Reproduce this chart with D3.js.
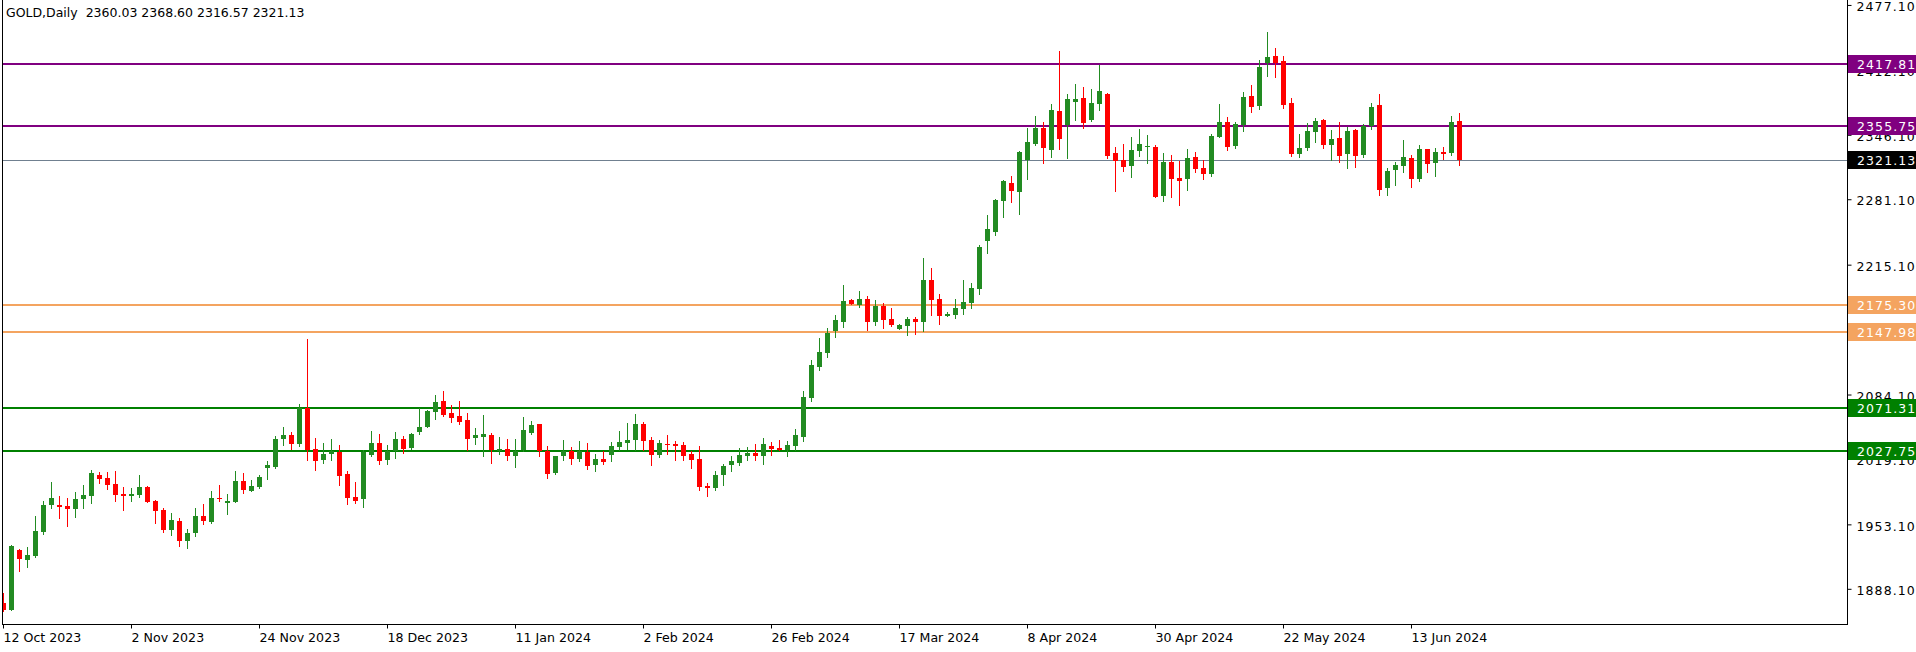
<!DOCTYPE html>
<html><head><meta charset="utf-8">
<script src="https://cdn.jsdelivr.net/npm/d3@7"></script>
<style>html,body{margin:0;padding:0;background:#fff;} svg{display:block;}</style>
</head><body><svg id="c" width="1916" height="652"></svg>
<script>
// ---- DATA ----
const openP = [1874.6,1867.2,1927.8,1917.7,1922.0,1945.6,1973.5,1973.2,1972.2,1969.4,
1979.5,1982.6,2003.4,2000.4,1994.3,1984.3,1982.6,1983.6,1991.3,1977.2,
1968.1,1948.3,1957.0,1937.2,1945.2,1962.1,1956.0,1980.2,1975.5,1976.5,
1997.4,1987.6,1991.3,2010.5,2011.5,2039.7,2043.8,2034.7,2071.0,2029.7,
2018.6,2024.6,2026.6,2004.4,1981.2,1979.2,2023.6,2035.7,2018.6,2027.6,
2039.7,2030.7,2046.8,2051.8,2067.0,2078.1,2066.0,2062.9,2058.9,2040.7,
2041.8,2043.8,2027.6,2029.7,2022.9,2028.6,2045.8,2054.9,2027.6,2005.4,
2022.6,2027.6,2019.6,2026.6,2013.5,2019.6,2023.6,2031.7,2035.7,2038.7,
2054.9,2038.7,2023.6,2034.7,2034.7,2033.7,2024.6,2019.6,1992.3,1990.3,
2003.4,2013.5,2015.5,2022.6,2025.6,2022.6,2032.7,2030.7,2028.6,2032.7,
2041.8,2081.1,2112.4,2126.5,2148.7,2157.8,2180.0,2174.9,2181.0,2157.8,
2173.9,2160.8,2150.7,2153.7,2160.8,2157.8,2200.1,2181.0,2163.8,2164.8,
2170.9,2176.9,2191.1,2239.5,2248.6,2279.8,2298.0,2288.9,2321.2,2337.4,
2353.5,2331.3,2370.6,2356.5,2379.7,2383.7,2361.5,2377.7,2387.8,2328.3,
2321.2,2315.1,2330.3,2334.3,2334.3,2284.9,2319.2,2303.0,2302.0,2324.2,
2313.1,2307.1,2344.4,2359.5,2335.3,2356.5,2385.7,2375.7,2419.0,2426.1,
2421.1,2378.7,2327.3,2333.3,2349.5,2361.5,2336.3,2343.4,2327.3,2351.5,
2326.2,2355.5,2376.7,2292.9,2311.1,2315.1,2323.2,2302.0,2332.3,2318.2,
2329.3,2328.3,2360.03];
const highP = [1884.7,1932.5,1928.8,1930.8,1962.1,1977.2,1996.4,1982.2,1980.2,1986.3,
1993.3,2008.5,2006.4,2006.4,2007.5,1991.3,1990.3,2003.4,1992.3,1978.2,
1970.1,1965.1,1960.0,1949.0,1970.1,1974.2,1987.3,1993.3,1984.3,2007.5,
2005.4,1998.4,2003.4,2017.6,2042.8,2051.8,2046.8,2075.0,2140.6,2040.7,
2035.7,2039.7,2033.7,2007.5,1996.4,2028.6,2047.8,2044.8,2033.7,2046.8,
2042.8,2045.8,2071.0,2069.0,2084.1,2088.2,2074.0,2078.1,2066.0,2050.8,
2063.9,2045.8,2041.8,2039.7,2039.7,2061.9,2057.9,2054.9,2032.7,2022.6,
2038.7,2031.7,2037.7,2035.7,2024.6,2027.6,2036.7,2047.8,2055.9,2065.0,
2056.9,2041.8,2038.7,2043.8,2037.7,2036.7,2027.6,2032.7,1995.4,2007.5,
2014.5,2022.6,2030.7,2031.7,2034.7,2040.7,2036.7,2038.7,2037.7,2049.8,
2088.2,2119.4,2141.6,2151.7,2164.8,2195.1,2181.0,2189.0,2184.0,2180.0,
2176.9,2171.9,2155.7,2162.8,2162.8,2222.3,2212.2,2186.0,2167.9,2181.0,
2200.1,2197.1,2235.4,2265.7,2281.5,2301.0,2305.0,2330.3,2353.5,2365.6,
2359.5,2377.7,2431.2,2387.8,2397.9,2394.8,2392.8,2417.0,2388.8,2334.3,
2337.4,2344.4,2352.5,2346.4,2336.3,2328.3,2326.2,2320.2,2332.3,2329.3,
2321.2,2347.4,2377.7,2364.6,2359.5,2389.8,2396.9,2422.1,2450.3,2434.2,
2426.1,2383.7,2347.4,2358.5,2363.6,2362.6,2351.5,2359.5,2354.5,2352.5,
2357.5,2378.7,2387.8,2313.1,2319.2,2341.4,2326.2,2336.3,2332.3,2333.3,
2334.3,2365.6,2368.60];
const lowP = [1866.5,1867.0,1906.9,1910.9,1921.0,1943.9,1970.4,1960.4,1952.3,1961.4,
1970.4,1975.5,1995.7,1989.6,1977.5,1968.4,1977.5,1981.6,1976.5,1955.3,
1946.2,1943.2,1932.1,1930.1,1942.2,1954.3,1955.0,1977.5,1964.4,1976.5,
1985.6,1987.6,1990.6,1999.4,2010.5,2033.7,2029.7,2032.7,2018.6,2008.5,
2015.5,2018.6,1993.3,1974.2,1975.2,1971.1,2022.6,2014.5,2014.5,2020.6,
2025.6,2029.7,2044.8,2051.8,2059.9,2062.9,2056.9,2054.9,2028.6,2034.7,
2022.6,2015.5,2024.6,2018.6,2011.5,2027.6,2044.8,2022.6,2000.4,2004.4,
2018.6,2014.5,2017.6,2009.5,2007.5,2014.5,2017.6,2028.6,2029.7,2028.6,
2028.6,2013.5,2021.6,2024.6,2018.6,2018.6,2010.5,1988.3,1982.2,1988.3,
1993.3,2007.5,2013.5,2018.6,2018.6,2014.5,2023.6,2028.6,2022.6,2028.6,
2037.7,2078.1,2109.3,2122.5,2142.6,2152.7,2175.9,2172.9,2149.7,2154.7,
2151.7,2153.7,2150.7,2144.7,2145.7,2148.7,2164.8,2155.7,2163.8,2161.8,
2165.8,2171.9,2186.0,2227.4,2245.5,2263.7,2278.8,2266.7,2302.0,2336.3,
2318.2,2324.2,2332.3,2323.2,2361.5,2353.5,2360.5,2371.6,2323.2,2289.9,
2310.1,2304.0,2325.2,2318.2,2283.9,2279.8,2283.9,2275.8,2290.9,2309.1,
2302.0,2305.0,2344.4,2331.3,2333.3,2350.5,2369.6,2372.6,2405.9,2404.9,
2373.6,2325.2,2324.2,2331.3,2339.4,2333.3,2321.2,2319.2,2313.1,2314.1,
2324.2,2352.5,2285.9,2285.9,2296.0,2309.1,2293.9,2300.0,2309.1,2305.0,
2322.2,2326.2,2316.57];
const closeP = [1867.2,1931.8,1918.7,1922.7,1946.9,1973.2,1980.2,1971.1,1969.4,1979.2,
1983.3,2005.4,1999.7,1993.6,1983.6,1982.6,1984.3,1991.3,1976.5,1967.4,
1948.3,1958.0,1937.2,1944.9,1962.1,1957.3,1980.2,1979.2,1977.2,1997.4,
1988.6,1992.3,2001.4,2013.5,2039.7,2043.8,2034.7,2071.0,2028.6,2017.6,
2024.6,2027.6,2002.4,1980.2,1977.2,2026.6,2035.7,2017.6,2027.6,2039.7,
2029.7,2044.8,2051.8,2068.0,2077.1,2063.9,2060.9,2056.9,2039.7,2043.8,
2044.8,2028.6,2029.7,2022.9,2027.6,2048.8,2053.9,2027.6,2004.4,2022.6,
2027.6,2019.6,2027.6,2012.5,2019.6,2016.5,2032.7,2036.7,2038.7,2054.9,
2037.7,2023.6,2035.7,2033.7,2032.7,2022.6,2018.6,1991.3,1990.3,2003.4,
2012.5,2017.6,2023.6,2025.6,2022.6,2034.7,2029.7,2028.6,2033.7,2043.8,
2082.1,2114.4,2127.5,2146.7,2159.8,2179.0,2175.9,2181.0,2157.8,2173.9,
2159.8,2154.7,2154.7,2160.8,2157.8,2200.1,2180.0,2163.8,2165.8,2171.9,
2177.9,2192.1,2233.4,2251.6,2280.8,2300.0,2289.9,2329.3,2339.4,2353.5,
2333.3,2371.6,2342.4,2382.7,2382.7,2358.5,2378.7,2390.8,2325.2,2320.2,
2314.1,2331.3,2337.4,2335.3,2283.9,2319.2,2302.0,2300.0,2323.2,2312.1,
2307.1,2345.4,2359.5,2334.3,2357.5,2384.7,2374.7,2415.0,2425.1,2419.0,
2376.7,2327.3,2333.3,2350.5,2360.5,2336.3,2342.4,2325.2,2350.5,2325.2,
2355.5,2374.7,2290.9,2310.1,2316.1,2324.2,2302.0,2332.3,2317.2,2329.3,
2327.3,2359.5,2321.13];

const dateTickLabels = ["12 Oct 2023","2 Nov 2023","24 Nov 2023","18 Dec 2023","11 Jan 2024","2 Feb 2024",
  "26 Feb 2024","17 Mar 2024","8 Apr 2024","30 Apr 2024","22 May 2024","13 Jun 2024"];
const dateTickBars = [0,16,32,48,64,80,96,112,128,144,160,176];
const priceTicks = [2477.10,2412.10,2346.10,2281.10,2215.10,2150.10,2084.10,2019.10,1953.10,1888.10];
const levelValues = [2417.81,2355.75,2175.30,2147.98,2071.31,2027.75];
const levelColors = ["#800080","#800080","#F4A460","#F4A460","#008000","#008000"];
const lastPrice = 2321.13;
const titleText = "GOLD,Daily  2360.03 2368.60 2316.57 2321.13";

// ---- CHART ----
const W = 1916, H = 652;
const plotL = 2, plotR = 1847, plotB = 624;
const FONT = "DejaVu Sans";
const svg = d3.select("#c");
svg.append("rect").attr("width", W).attr("height", H).attr("fill", "#fff");

const n = openP.length;
const x = d3.scaleLinear().domain([0, n - 1]).range([3.5, 3.5 + 8 * (n - 1)]);
const y = d3.scaleLinear().domain([1853.1, 2482.6]).range([plotB, 0]);

svg.append("defs").append("clipPath").attr("id", "clip")
  .append("rect").attr("x", plotL + 1).attr("y", 0).attr("width", plotR - plotL - 1).attr("height", plotB);

const plot = svg.append("g").attr("clip-path", "url(#clip)");

// level lines
plot.selectAll("line.level").data(levelValues).join("line")
  .attr("class", "level")
  .attr("x1", plotL).attr("x2", plotR)
  .attr("y1", d => Math.round(y(d))).attr("y2", d => Math.round(y(d)))
  .attr("stroke", (d, i) => levelColors[i]).attr("stroke-width", 2);

plot.append("line")
  .attr("x1", plotL).attr("x2", plotR)
  .attr("y1", Math.round(y(lastPrice)) + 0.5).attr("y2", Math.round(y(lastPrice)) + 0.5)
  .attr("stroke", "#708090").attr("stroke-width", 1);

// candles
const idx = d3.range(n);
const col = i => closeP[i] >= openP[i] ? "#228B22" : "#FF0000";
plot.selectAll("line.wick").data(idx).join("line")
  .attr("class", "wick")
  .attr("x1", i => x(i)).attr("x2", i => x(i))
  .attr("y1", i => Math.round(y(highP[i]))).attr("y2", i => Math.round(y(lowP[i])) + 1)
  .attr("stroke", col).attr("stroke-width", 1);
plot.selectAll("rect.body").data(idx).join("rect")
  .attr("class", "body")
  .attr("x", i => x(i) - 2.5).attr("width", 5)
  .attr("y", i => Math.round(y(Math.max(openP[i], closeP[i]))))
  .attr("height", i => Math.max(1, Math.round(y(Math.min(openP[i], closeP[i]))) - Math.round(y(Math.max(openP[i], closeP[i])))))
  .attr("fill", col);

// frame
svg.append("line").attr("x1", plotL + 0.5).attr("x2", plotL + 0.5).attr("y1", 0).attr("y2", plotB + 1).attr("stroke", "#000");
svg.append("line").attr("x1", plotR + 0.5).attr("x2", plotR + 0.5).attr("y1", 0).attr("y2", plotB + 1).attr("stroke", "#000");
svg.append("line").attr("x1", plotL).attr("x2", plotR + 1).attr("y1", plotB + 0.5).attr("y2", plotB + 0.5).attr("stroke", "#000");

// right axis
const yAxis = d3.axisRight(y).tickValues(priceTicks).tickSize(4).tickPadding(5).offset(0)
  .tickFormat(d => d.toFixed(2));
const gy = svg.append("g").attr("transform", `translate(${plotR + 0.5},0)`).call(yAxis);
gy.select(".domain").remove();
gy.selectAll("line").attr("stroke", "#000");
gy.selectAll("text").attr("font-family", FONT).attr("font-size", 12.5).attr("fill", "#000")
  .attr("letter-spacing", "1.1px").attr("dy", "0.46em");

// bottom axis
const xAxis = d3.axisBottom(x).tickValues(dateTickBars).tickSize(4).tickPadding(4).offset(0)
  .tickFormat((d, k) => dateTickLabels[k]);
const gx = svg.append("g").attr("transform", `translate(0,${plotB + 0.5})`).call(xAxis);
gx.select(".domain").remove();
gx.selectAll("line").attr("stroke", "#000");
gx.selectAll("text").attr("font-family", FONT).attr("font-size", 12.6).attr("fill", "#000")
  .attr("text-anchor", "start").attr("x", 0).attr("dy", "0.75em");

// level price boxes
const boxVals = levelValues.concat([lastPrice]);
const boxCols = levelColors.concat(["#000000"]);
const boxes = svg.append("g").selectAll("g").data(boxVals).join("g")
  .attr("transform", d => `translate(${plotR + 1},${Math.round(y(d))})`);
boxes.append("rect").attr("x", 0).attr("y", -9).attr("width", W - plotR).attr("height", 18)
  .attr("fill", (d, i) => boxCols[i]);
boxes.append("text").attr("x", 9).attr("y", 0).attr("dy", "0.4em")
  .attr("font-family", FONT).attr("font-size", 12.5).attr("letter-spacing", "1.1px")
  .attr("fill", "#fff").text(d => d.toFixed(2));

// title
svg.append("text").attr("x", 6).attr("y", 17).attr("font-family", FONT).attr("font-size", 12.5)
  .style("white-space", "pre").attr("fill", "#000").text(titleText);
</script>
</body></html>
